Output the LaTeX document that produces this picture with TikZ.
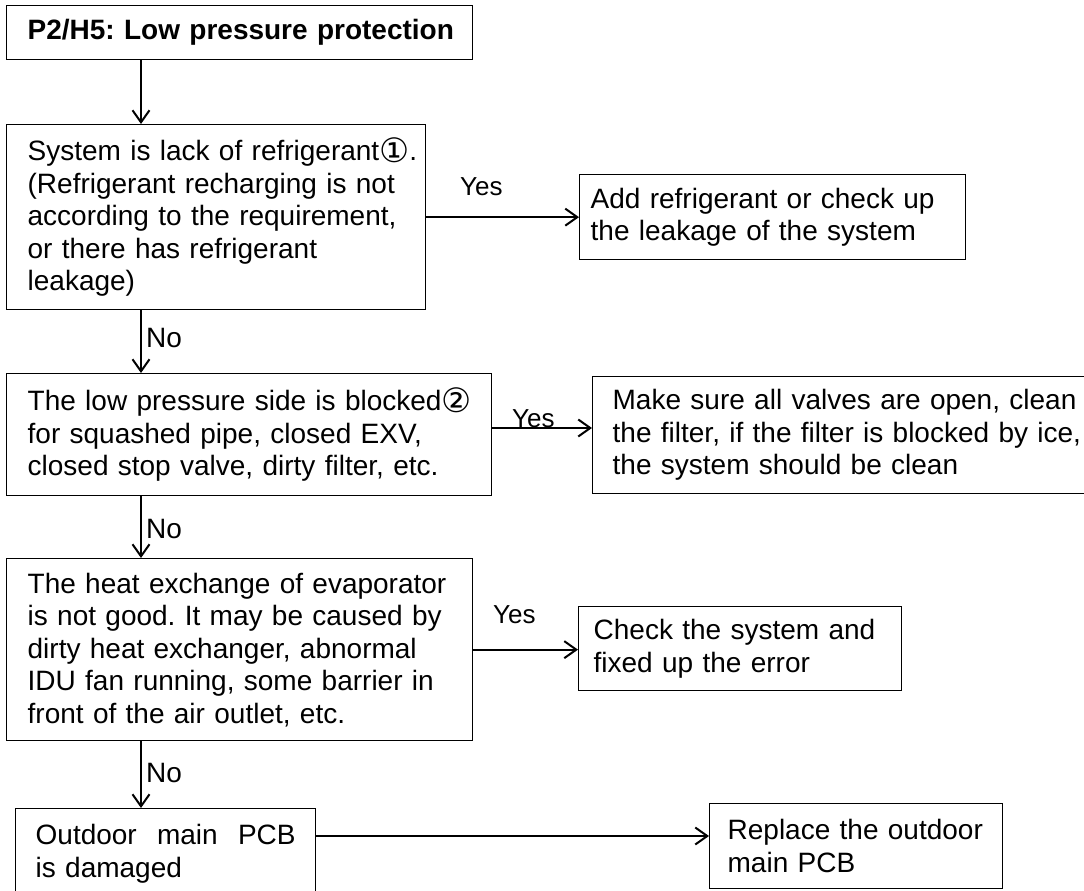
\documentclass[tikz,border=0pt]{standalone}
\usepackage{fontspec}
\setmainfont{Liberation Sans}
\newfontfamily\circfont{DejaVu Sans}
\usetikzlibrary{arrows.meta}
\newcommand{\rowx}[1]{\mbox{#1}}
\newcommand{\cnum}[1]{\raisebox{-0.08em}{\scalebox{1.2}{\circfont #1}}}
\frenchspacing
\tikzset{
  box/.style={draw, line width=1.3pt, anchor=north west, inner ysep=0pt, align=left,
              font=\fontsize{28}{32.5}\selectfont},
  conn/.style={line width=2pt, -{Straight Barb[length=12pt,width=17pt]}},
  yeslbl/.style={font=\fontsize{26}{30}\selectfont, inner sep=0pt, anchor=base west},
  nolbl/.style={font=\fontsize{28}{30}\selectfont, inner sep=0pt, anchor=base west},
}
\begin{document}
\begin{tikzpicture}[x=1pt,y=-1pt]
\useasboundingbox (0,0) rectangle (1084,891);
\clip (0,0) rectangle (1084,891);
\fill[white] (0,0) rectangle (1084,891);
\coordinate (spine) at (141,0);
\coordinate (y2) at (0,428);
\coordinate (y4) at (0,836);

\node[box, font=\fontsize{28}{32.5}\selectfont\bfseries, minimum height=54pt, inner xsep=21pt, text width=424pt] (t) at (6,5)
  {\rowx{P2/H5: Low pressure protection}};

\node[box, minimum height=185pt, inner xsep=21pt, text width=377pt] (b1) at (6,124)
  {\rowx{System is lack of refrigerant\cnum{①}.}\\
   \rowx{(Refrigerant recharging is not}\\
   \rowx{according to the requirement,}\\
   \rowx{or there has refrigerant}\\
   \rowx{leakage)}};

\node[box, minimum height=85pt, inner xsep=11pt, text width=364pt] (a1) at (579,174)
  {\rowx{Add refrigerant or check up}\\
   \rowx{the leakage of the system}};

\node[box, minimum height=122pt, inner xsep=21pt, text width=443pt] (b2) at (6,373)
  {\rowx{The low pressure side is blocked\cnum{②}}\\
   \rowx{for squashed pipe, closed EXV,}\\
   \rowx{closed stop valve, dirty filter, etc.}};

\node[box, minimum height=117pt, inner xsep=20pt, text width=480pt] (a2) at (592,376)
  {\rowx{Make sure all valves are open, clean}\\
   \rowx{the filter, if the filter is blocked by ice,}\\
   \rowx{the system should be clean}};

\node[box, minimum height=182pt, inner xsep=21pt, text width=424pt] (b3) at (6,558)
  {\rowx{The heat exchange of evaporator}\\
   \rowx{is not good. It may be caused by}\\
   \rowx{dirty heat exchanger, abnormal}\\
   \rowx{IDU fan running, some barrier in}\\
   \rowx{front of the air outlet, etc.}};

\node[box, minimum height=84pt, inner xsep=15pt, text width=293pt] (a3) at (578,606)
  {\rowx{Check the system and}\\
   \rowx{fixed up the error}};

\node[box, minimum height=90pt, inner xsep=20pt, text width=260pt] (b4) at (15,808)
  {\hbox to 260pt{Outdoor\hfill main\hfill PCB}\\
   \rowx{is damaged}};

\node[box, minimum height=85pt, inner xsep=18pt, text width=257pt] (a4) at (709,803)
  {\rowx{Replace the outdoor}\\
   \rowx{main PCB}};

\draw[conn] (t.south -| spine) -- (b1.north -| spine);
\draw[conn] (b1.south -| spine) -- (b2.north -| spine);
\draw[conn] (b2.south -| spine) -- (b3.north -| spine);
\draw[conn] (b3.south -| spine) -- (b4.north -| spine);
\draw[conn] (b1.east) -- (a1.west |- b1.east);
\draw[conn] (b2.east |- y2) -- (a2.west |- y2);
\draw[conn] (b3.east) -- (a3.west |- b3.east);
\draw[conn] (b4.east |- y4) -- (a4.west |- y4);

\node[yeslbl] (l1) at (460,195) {Yes};
\node[nolbl] (l2) at (146,347) {No};
\node[yeslbl] (l3) at (512,427) {Yes};
\node[nolbl] (l4) at (146,538) {No};
\node[yeslbl] (l5) at (493,623) {Yes};
\node[nolbl] (l6) at (146,782) {No};
\end{tikzpicture}
\end{document}
